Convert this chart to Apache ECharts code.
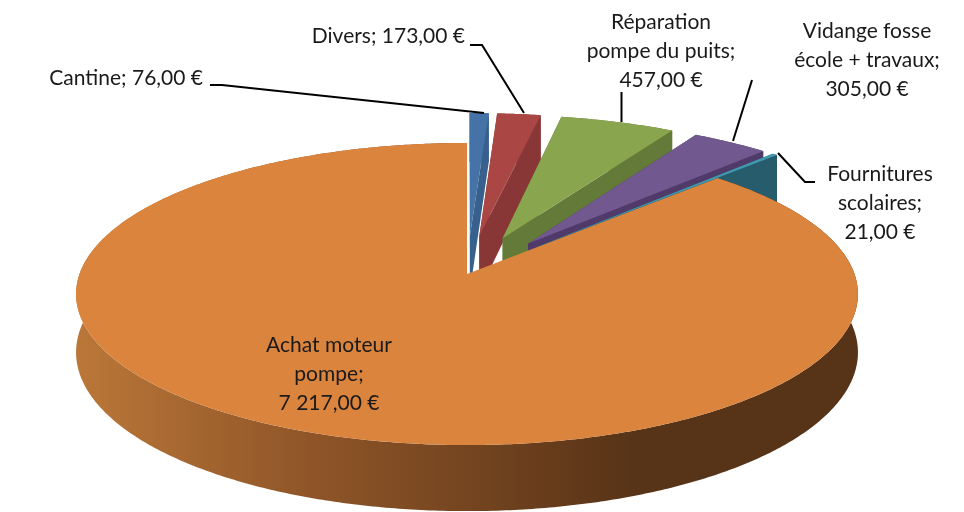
<!DOCTYPE html>
<html>

<head>
  <meta charset="utf-8" />
  <title>Dépenses</title>
  <script src="https://cdn.jsdelivr.net/npm/echarts@6/dist/echarts.min.js"></script>
  <style>
    html, body { margin: 0; padding: 0; background: #fff; }
  </style>
</head>

<body>
  <div id="main" style="width: 964px;height:512px;"></div>
  <script type="text/javascript">

    // Inline data, clockwise from 12 o'clock
    let categories = ['Cantine', 'Divers', 'Réparation pompe du puits', 'Vidange fosse école + travaux', 'Fournitures scolaires', 'Achat moteur pompe'];
    let amounts = [76, 173, 457, 305, 21, 7217];
    let labelTexts = [
      'Cantine; 76,00 €',
      'Divers; 173,00 €',
      'Réparation\npompe du puits;\n457,00 €',
      'Vidange fosse\nécole + travaux;\n305,00 €',
      'Fournitures\nscolaires;\n21,00 €',
      'Achat moteur\npompe;\n7 217,00 €'
    ];
    let topColors = ['#4572A7', '#AA4643', '#89A54E', '#71588F', '#4198AF', '#DB843D'];
    let sideColors = ['#38608D', '#893736', '#647A38', '#4F3A6A', '#265C6B', '#DB843D'];
    let exploded = [true, true, true, true, true, false];

    // Pie geometry: perspective view of a unit disc, apex of the big slice at (cx, cy)
    const cx = 467, cy = 274;
    const radiusX = 387.5, radiusY = 148.4, persp = 0.1325, depth = 57.3;
    const explosion = 0.267;

    // Label anchors and leader lines
    const labelPos = [[203, 78, 'right'], [465, 36, 'right'], [661, 51, 'center'], [867, 60, 'center'], [880, 203, 'center'], [329, 374, 'center']];
    const leaders = [
      [[210, 85], [222, 85], [484, 113]],
      [[470, 45], [482, 45], [524, 113]],
      [[621.5, 92], [621.5, 122]],
      [[752, 80], [733, 141]],
      [[815, 182], [805, 182], [778, 153]]
    ];

    const total = amounts.reduce((a, b) => a + b, 0);

    function project(u, v, z) {
      let w = 1 + persp * v;
      return [cx + radiusX * u / w, cy - radiusY * v / w + z * depth / w];
    }

    function renderSlice(params, api) {
      let i = api.value(0);
      let before = amounts.slice(0, i).reduce((a, b) => a + b, 0);
      let a0 = before / total * 2 * Math.PI;
      let a1 = (before + api.value(1)) / total * 2 * Math.PI;
      let mid = (a0 + a1) / 2;
      let ou = exploded[i] ? explosion * Math.sin(mid) : 0;
      let ov = exploded[i] ? explosion * Math.cos(mid) : 0;

      let steps = Math.max(2, Math.ceil((a1 - a0) / 0.01));
      let arc = [];
      for (let s = 0; s <= steps; s++) {
        let a = a0 + (a1 - a0) * s / steps;
        arc.push([ou + Math.sin(a), ov + Math.cos(a)]);
      }
      let top = p => project(p[0], p[1], 0);
      let bottom = p => project(p[0], p[1], 1);
      let apex = [ou, ov];
      let first = arc[0], last = arc[arc.length - 1];

      let sideFill = sideColors[i];
      if (i === amounts.length - 1) {
        sideFill = new echarts.graphic.LinearGradient(0, 0, 1, 0, [
          { offset: 0, color: '#BA7738' },
          { offset: 0.3, color: '#8F5528' },
          { offset: 0.72, color: '#573317' },
          { offset: 1, color: '#573317' }
        ]);
      }

      let children = [];
      let face = (pts, fill) => children.push({ type: 'polygon', silent: true, shape: { points: pts }, style: { fill: fill } });
      // start face, end face, outer wall, then the top
      if (i !== amounts.length - 1) {
        face([top(apex), top(first), bottom(first), bottom(apex)], sideColors[i]);
        face([top(apex), top(last), bottom(last), bottom(apex)], sideColors[i]);
      }
      face(arc.map(top).concat(arc.slice().reverse().map(bottom)), sideFill);
      face([top(apex)].concat(arc.map(top)), topColors[i]);
      return { type: 'group', children: children };
    }

    var chart = echarts.init(document.getElementById('main'));

    let graphics = leaders.map(pts => ({
      type: 'polyline',
      silent: true,
      z: 20,
      shape: { points: pts },
      style: { stroke: '#000', lineWidth: 2, fill: null }
    }));
    labelTexts.forEach((t, i) => {
      graphics.push({
        type: 'text',
        silent: true,
        z: 21,
        x: labelPos[i][0],
        y: labelPos[i][1],
        style: {
          text: t,
          fill: '#1a1a1a',
          font: '21px Lato, "Noto Sans", sans-serif',
          lineHeight: 29,
          align: labelPos[i][2],
          verticalAlign: 'middle'
        }
      });
    });

    chart.setOption({
      animation: false,
      backgroundColor: '#fff',
      graphic: graphics,
      series: [
        {
          type: 'custom',
          coordinateSystem: 'none',
          name: 'Dépenses',
          renderItem: renderSlice,
          data: amounts.map((v, i) => ({ name: categories[i], value: [i, v] }))
        }
      ]
    });
  </script>
</body>

</html>
